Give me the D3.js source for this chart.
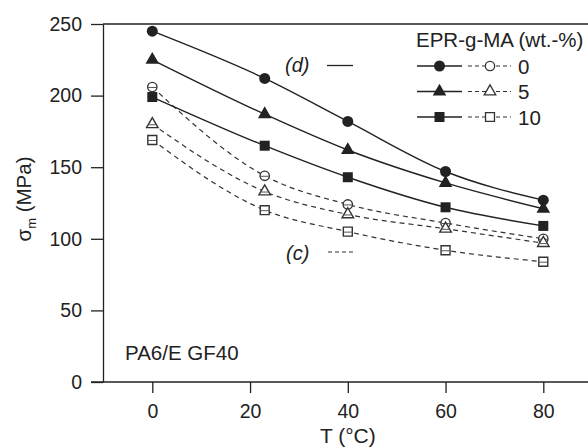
<!DOCTYPE html>
<html>
<head>
<meta charset="utf-8">
<script src="https://cdn.jsdelivr.net/npm/d3@7/dist/d3.min.js"></script>
<style>
  body { margin: 0; background: #fff; }
  text { font-family: "Liberation Sans", Arial, sans-serif; fill: #222; }
</style>
</head>
<body>
<div id="chart"></div>
<script>
// temperatures (°C)
const temps = [0, 23, 40, 60, 80];
// EPR-g-MA contents (wt.-%)
const contents = ['0', '5', '10'];
// (d) solid, filled markers
const dValues0 = [245, 212, 182, 147, 127];
const dValues5 = [225, 187, 162, 139, 121];
const dValues10 = [199, 165, 143, 122, 109];
// (c) dashed, open markers
const cValues0 = [206, 144, 124, 111, 100];
const cValues5 = [180, 133, 117, 107, 97];
const cValues10 = [169, 120, 105, 92, 84];
const yTicks = [0, 50, 100, 150, 200, 250];
const xTicks = [0, 20, 40, 60, 80];

const width = 588, height = 448;
const ink = '#222';

const svg = d3.select('#chart').append('svg')
  .attr('width', width)
  .attr('height', height);

const x = d3.scaleLinear().domain([0, 80]).range([152.3, 543.3]);
const y = d3.scaleLinear().domain([0, 250]).range([382, 24]);
const axisX = 103;

const shapes = [d3.symbolCircle, d3.symbolTriangle, d3.symbolSquare];
const solidSize = [95, 80, 100];
const openSize = [68, 58, 80];

// frame lines
svg.append('line')
  .attr('x1', axisX - 12).attr('x2', width)
  .attr('y1', y(0)).attr('y2', y(0))
  .attr('stroke', ink).attr('stroke-width', 1.3);
svg.append('line')
  .attr('x1', axisX).attr('x2', width)
  .attr('y1', y(250)).attr('y2', y(250))
  .attr('stroke', ink).attr('stroke-width', 1.3);

// Y axis
const yAxis = svg.append('g')
  .attr('transform', `translate(${axisX},0)`)
  .call(d3.axisLeft(y).tickValues(yTicks).tickSize(12).tickSizeOuter(0).tickPadding(9));
yAxis.select('.domain').attr('stroke', ink).attr('stroke-width', 1.3);
yAxis.selectAll('.tick line').attr('stroke', ink).attr('stroke-width', 1.3);
yAxis.selectAll('.tick text').attr('font-size', 19.5).attr('font-family', null).attr('fill', ink);

// X axis
const xAxis = svg.append('g')
  .attr('transform', `translate(0,${y(0)})`)
  .call(d3.axisBottom(x).tickValues(xTicks).tickSize(11).tickPadding(11));
xAxis.select('.domain').remove();
xAxis.selectAll('.tick line').attr('stroke', ink).attr('stroke-width', 1.3);
xAxis.selectAll('.tick text').attr('font-size', 19.5).attr('font-family', null).attr('fill', ink);

// axis titles
svg.append('text')
  .attr('x', x(40)).attr('y', 443)
  .attr('text-anchor', 'middle')
  .attr('font-size', 21)
  .text('T (°C)');

const yTitle = svg.append('text')
  .attr('transform', 'translate(31,199) rotate(-90)')
  .attr('text-anchor', 'middle')
  .attr('font-size', 20.5);
yTitle.append('tspan').text('σ');
yTitle.append('tspan').attr('font-size', 13).attr('dy', 5).text('m');
yTitle.append('tspan').attr('dy', -5).text(' (MPa)');

// curves
const line = d3.line()
  .x((d, i) => x(temps[i]))
  .y(d => y(d))
  .curve(d3.curveMonotoneX);

const dSeries = [dValues0, dValues5, dValues10];
const cSeries = [cValues0, cValues5, cValues10];

cSeries.forEach(vals => {
  svg.append('path')
    .attr('d', line(vals))
    .attr('fill', 'none')
    .attr('stroke', '#333')
    .attr('stroke-width', 1.2)
    .attr('stroke-dasharray', '5,4');
});
dSeries.forEach(vals => {
  svg.append('path')
    .attr('d', line(vals))
    .attr('fill', 'none')
    .attr('stroke', ink)
    .attr('stroke-width', 1.4);
});

function openMarker(g, k, cx, cy) {
  g.append('path')
    .attr('transform', `translate(${cx},${cy})`)
    .attr('d', d3.symbol().type(shapes[k]).size(openSize[k])())
    .attr('fill', '#fff')
    .attr('stroke', '#333')
    .attr('stroke-width', 1.4);
  g.append('line')
    .attr('x1', cx - 4).attr('x2', cx + 4)
    .attr('y1', cy + 0.5).attr('y2', cy + 0.5)
    .attr('stroke', '#555').attr('stroke-width', 1);
}
function solidMarker(g, k, cx, cy) {
  g.append('path')
    .attr('transform', `translate(${cx},${cy})`)
    .attr('d', d3.symbol().type(shapes[k]).size(solidSize[k])())
    .attr('fill', ink);
}

const marks = svg.append('g');
cSeries.forEach((vals, k) => {
  vals.forEach((v, i) => openMarker(marks, k, x(temps[i]), y(v)));
});
dSeries.forEach((vals, k) => {
  vals.forEach((v, i) => solidMarker(marks, k, x(temps[i]), y(v)));
});

// legend
const legend = svg.append('g');
legend.append('text')
  .attr('x', 416).attr('y', 47)
  .attr('font-size', 20.5)
  .text('EPR-g-MA (wt.-%)');
contents.forEach((c, k) => {
  const ly = 66 + k * 25.5;
  legend.append('line')
    .attr('x1', 417).attr('x2', 462).attr('y1', ly).attr('y2', ly)
    .attr('stroke', ink).attr('stroke-width', 1.3);
  solidMarker(legend, k, 439.5, ly);
  legend.append('line')
    .attr('x1', 468).attr('x2', 511).attr('y1', ly).attr('y2', ly)
    .attr('stroke', '#333').attr('stroke-width', 1.2)
    .attr('stroke-dasharray', '4,3');
  legend.append('path')
    .attr('transform', `translate(490,${ly})`)
    .attr('d', d3.symbol().type(shapes[k]).size(openSize[k])())
    .attr('fill', '#fff').attr('stroke', '#333').attr('stroke-width', 1.3);
  legend.append('text')
    .attr('x', 518).attr('y', ly + 7.5)
    .attr('font-size', 20.5)
    .text(c);
});

// (d) / (c) keys
svg.append('text')
  .attr('x', 285).attr('y', 72)
  .attr('font-size', 20).attr('font-style', 'italic')
  .text('(d)');
svg.append('line')
  .attr('x1', 327).attr('x2', 353).attr('y1', 65.5).attr('y2', 65.5)
  .attr('stroke', ink).attr('stroke-width', 1.3);
svg.append('text')
  .attr('x', 286).attr('y', 260)
  .attr('font-size', 20).attr('font-style', 'italic')
  .text('(c)');
svg.append('line')
  .attr('x1', 328).attr('x2', 354).attr('y1', 252).attr('y2', 252)
  .attr('stroke', '#333').attr('stroke-width', 1.2)
  .attr('stroke-dasharray', '4,3');

svg.append('text')
  .attr('x', 125).attr('y', 360)
  .attr('font-size', 20.5)
  .text('PA6/E GF40');
</script>
</body>
</html>
